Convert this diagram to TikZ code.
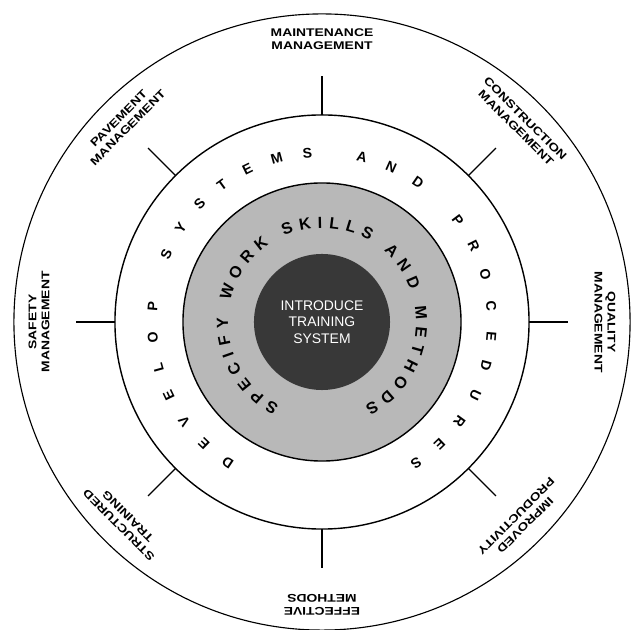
\documentclass[tikz,border=0pt]{standalone}
\usepackage{fontspec}
\setmainfont{Liberation Sans}
\newfontfamily\mgmtfont[FakeStretch=1.25]{Liberation Sans}
\usetikzlibrary{decorations.text}

\begin{document}
\begin{tikzpicture}[x=0.025cm, y=0.025cm, line width=1pt,
  ring/.style={circle, draw, inner sep=0pt, outer sep=0pt},
  mgmt/.style={align=center, font=\mgmtfont\bfseries\fontsize{7.9}{9.2}\selectfont},
  spoke/.style={line width=0.9pt}]
  \useasboundingbox (-322,-308) rectangle (310,322);

  \node [ring, minimum size=15.4cm, line width=0.8pt] (outer) at (0,0) {};
  \node [ring, minimum size=10.35cm] (mid) at (0,0) {};
  \node [ring, minimum size=6.95cm, fill=black!28] (skills) at (0,0) {};
  \node [ring, minimum size=3.4cm, draw=none, fill=black!78, text=white, align=center,
    font=\fontsize{9.9}{11.9}\selectfont] (core) at (0,0) {INTRODUCE\\TRAINING\\SYSTEM};

  \foreach \a in {0,45,...,315} {
    \coordinate (tip\a) at (\a:246);
    \draw [spoke] (mid.\a) -- (tip\a);
  }

  \node [mgmt, rotate=0] (maint) at (90:283) {MAINTENANCE\\MANAGEMENT};
  \node [mgmt, rotate=-45] (constr) at (45:281) {CONSTRUCTION\\MANAGEMENT};
  \node [mgmt, rotate=-90] (quality) at (0:283) {QUALITY\\MANAGEMENT};
  \node [mgmt, rotate=-135] (product) at (-45:281) {IMPROVED\\PRODUCTIVITY};
  \node [mgmt, rotate=180] (effect) at (-90:283) {EFFECTIVE\\METHODS};
  \node [mgmt, rotate=135] (struct) at (-135:281) {STRUCTURED\\TRAINING};
  \node [mgmt, rotate=90] (safety) at (180:283) {SAFETY\\MANAGEMENT};
  \node [mgmt, rotate=45] (pave) at (135:281) {PAVEMENT\\MANAGEMENT};

  \path [decorate, decoration={text along path, text align=fit to path,
    text={|\bfseries\fontsize{10}{12}\selectfont|DEVELOP SYSTEMS AND PROCEDURES}}]
    (238:165) arc [start angle=238, end angle=-58, radius=165];
  \path [decorate, decoration={text along path, text align=fit to path,
    text={|\bfseries\fontsize{11.5}{13}\selectfont|SPECIFY WORK SKILLS AND METHODS}}]
    (243:94) arc [start angle=243, end angle=-63, radius=94];
\end{tikzpicture}
\end{document}
